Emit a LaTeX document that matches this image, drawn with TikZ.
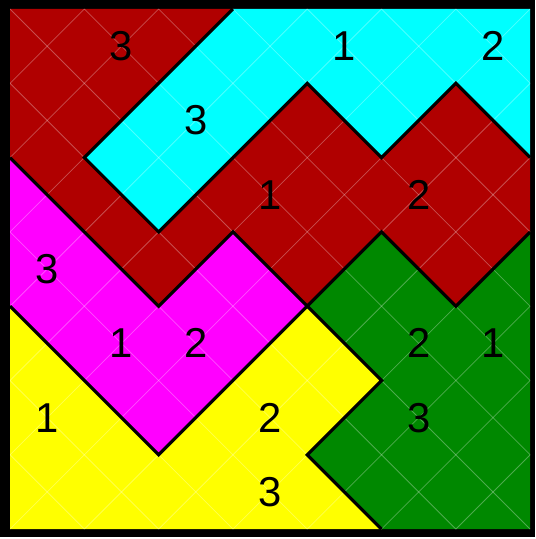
\documentclass[tikz,border=0pt]{standalone}
\usepackage{fontspec}
\setmainfont{Liberation Sans}
\usepackage{tikz}

\definecolor{piecered}{RGB}{176,0,0}
\definecolor{piececyan}{RGB}{0,255,255}
\definecolor{piecemagenta}{RGB}{255,0,255}
\definecolor{pieceyellow}{RGB}{255,255,0}
\definecolor{piecegreen}{RGB}{0,136,0}

\begin{document}
\begin{tikzpicture}[
        x=1cm, y=1cm,
        piece_edge/.style={draw=black, line width=1.2pt, line join=miter},
        grid_line/.style={draw=white, opacity=0.3, line width=0.3pt},
        cell_label/.style={font=\fontsize{16}{16}\selectfont, inner sep=0pt}
    ]
        \useasboundingbox (-0.135,-0.133) rectangle (7.066,7.121);
        % outer frame
        \fill[black] (-0.135,-0.106) rectangle (7.066,7.121);

        % pieces
        \fill[piecered] (0,7) -- (3,7) -- (1,5) -- (2,4) -- (4,6) -- (5,5) -- (6,6) -- (7,5) -- (7,4) -- (6,3) -- (5,4) -- (4,3) -- (3,4) -- (2,3) -- (0,5) -- cycle;
        \fill[piececyan] (3,7) -- (7,7) -- (7,5) -- (6,6) -- (5,5) -- (4,6) -- (2,4) -- (1,5) -- cycle;
        \fill[piecemagenta] (0,5) -- (2,3) -- (3,4) -- (4,3) -- (2,1) -- (0,3) -- cycle;
        \fill[pieceyellow] (0,3) -- (2,1) -- (4,3) -- (5,2) -- (4,1) -- (5,0) -- (0,0) -- cycle;
        \fill[piecegreen] (4,3) -- (5,4) -- (6,3) -- (7,4) -- (7,0) -- (5,0) -- (4,1) -- (5,2) -- cycle;

        % faint diagonal grid
        \begin{scope}
            \clip (0,0) rectangle (7,7);
            \foreach \n in {-7,...,7} {
                \draw[grid_line] (\n,0) -- (\n+7,7);
                \draw[grid_line] (\n+7,0) -- (\n,7);
            }
        \end{scope}

        % outlines
        \draw[piece_edge] (3,7) -- (1,5) -- (2,4) -- (4,6) -- (5,5) -- (6,6) -- (7,5);
        \draw[piece_edge] (0,5) -- (2,3) -- (3,4) -- (4,3) -- (5,4) -- (6,3) -- (7,4);
        \draw[piece_edge] (0,3) -- (2,1) -- (4,3) -- (5,2) -- (4,1) -- (5,0);

        % labels
        \node (red_a) at (1.5,6.5) [cell_label] {3};
        \node (red_b) at (3.5,4.5) [cell_label] {1};
        \node (red_c) at (5.5,4.5) [cell_label] {2};
        \node (cyan_a) at (4.5,6.5) [cell_label] {1};
        \node (cyan_b) at (6.5,6.5) [cell_label] {2};
        \node (cyan_c) at (2.5,5.5) [cell_label] {3};
        \node (magenta_a) at (0.5,3.5) [cell_label] {3};
        \node (magenta_b) at (1.5,2.5) [cell_label] {1};
        \node (magenta_c) at (2.5,2.5) [cell_label] {2};
        \node (green_a) at (5.5,2.5) [cell_label] {2};
        \node (green_b) at (6.5,2.5) [cell_label] {1};
        \node (green_c) at (5.5,1.5) [cell_label] {3};
        \node (yellow_a) at (0.5,1.5) [cell_label] {1};
        \node (yellow_b) at (3.5,1.5) [cell_label] {2};
        \node (yellow_c) at (3.5,0.5) [cell_label] {3};

    \end{tikzpicture}
\end{document}
